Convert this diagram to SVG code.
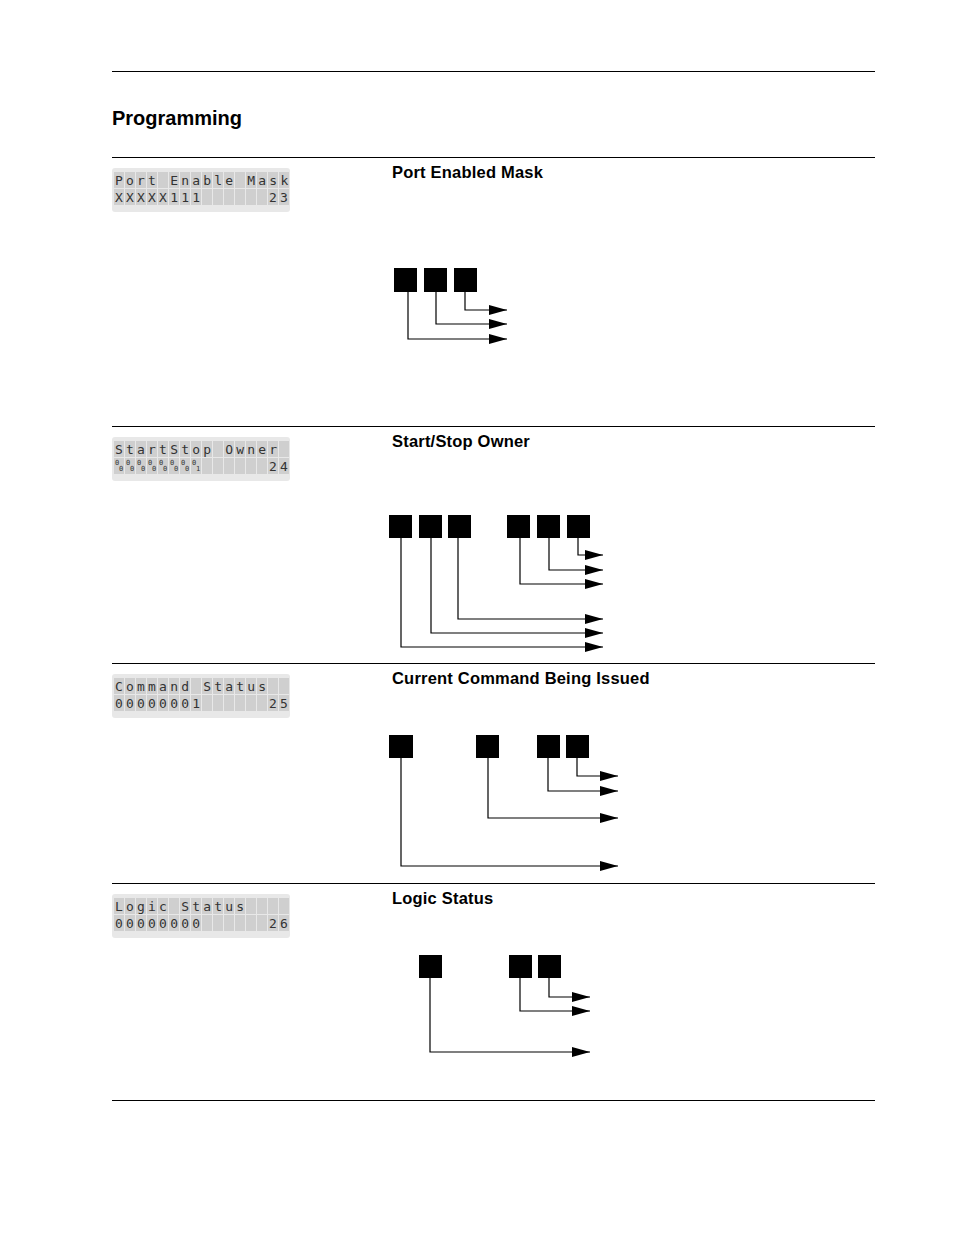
<svg xmlns="http://www.w3.org/2000/svg" width="954" height="1235" viewBox="0 0 954 1235">
<style>
.rule{stroke:#000;stroke-width:1}
.h{font-family:"Liberation Sans",Arial,sans-serif;font-weight:bold;font-size:16.5px;letter-spacing:0.2px}
.lcd{fill:#e8e8e8}
.cell{fill:#cfcfcf}
.lt{font-family:"DejaVu Sans Mono","Liberation Mono",monospace;font-size:13px;fill:#333;letter-spacing:3.2px;white-space:pre}
.sm{font-family:"DejaVu Sans Mono",monospace;font-size:7px;fill:#333}
.sq{fill:#000}
.c{fill:none;stroke:#000;stroke-width:1.2;marker-end:url(#ah)}
</style>
<defs>
<marker id="ah" markerUnits="userSpaceOnUse" markerWidth="19" markerHeight="11" refX="18" refY="5" orient="auto"><polygon points="0,0 18,5 0,10" fill="#000"/></marker>
<g id="cells">
<rect class="lcd" x="0" y="0" width="178" height="44" rx="3"/>
<g class="cell">
<rect x="2" y="4" width="10" height="16"/><rect x="13" y="4" width="10" height="16"/><rect x="24" y="4" width="10" height="16"/><rect x="35" y="4" width="10" height="16"/><rect x="46" y="4" width="10" height="16"/><rect x="57" y="4" width="10" height="16"/><rect x="68" y="4" width="10" height="16"/><rect x="79" y="4" width="10" height="16"/><rect x="90" y="4" width="10" height="16"/><rect x="101" y="4" width="10" height="16"/><rect x="112" y="4" width="10" height="16"/><rect x="123" y="4" width="10" height="16"/><rect x="134" y="4" width="10" height="16"/><rect x="145" y="4" width="10" height="16"/><rect x="156" y="4" width="10" height="16"/><rect x="167" y="4" width="10" height="16"/>
<rect x="2" y="21" width="10" height="16"/><rect x="13" y="21" width="10" height="16"/><rect x="24" y="21" width="10" height="16"/><rect x="35" y="21" width="10" height="16"/><rect x="46" y="21" width="10" height="16"/><rect x="57" y="21" width="10" height="16"/><rect x="68" y="21" width="10" height="16"/><rect x="79" y="21" width="10" height="16"/><rect x="90" y="21" width="10" height="16"/><rect x="101" y="21" width="10" height="16"/><rect x="112" y="21" width="10" height="16"/><rect x="123" y="21" width="10" height="16"/><rect x="134" y="21" width="10" height="16"/><rect x="145" y="21" width="10" height="16"/><rect x="156" y="21" width="10" height="16"/><rect x="167" y="21" width="10" height="16"/>
</g>
</g>
</defs>
<rect width="954" height="1235" fill="#fff"/>
<g id="rules">
<line class="rule" x1="112" y1="71.5" x2="875" y2="71.5"/>
<line class="rule" x1="112" y1="157.5" x2="875" y2="157.5"/>
<line class="rule" x1="112" y1="426.5" x2="875" y2="426.5"/>
<line class="rule" x1="112" y1="663.5" x2="875" y2="663.5"/>
<line class="rule" x1="112" y1="883.5" x2="875" y2="883.5"/>
<line class="rule" x1="112" y1="1100.5" x2="875" y2="1100.5"/>
</g>
<text x="112" y="125" font-family="Liberation Sans,Arial,sans-serif" font-weight="bold" font-size="20">Programming</text>

<g id="lcd1" transform="translate(112,168)">
<use href="#cells"/>
<text class="lt" x="3" y="17">Port Enable Mask</text>
<text class="lt" x="3" y="34">XXXXX111</text>
<text class="lt" x="157" y="34">23</text>
</g>
<g id="lcd2" transform="translate(112,437)">
<use href="#cells"/>
<text class="lt" x="3" y="17">StartStop Owner</text>
<text class="lt" x="157" y="34">24</text>
<g class="sm">
<text x="3" y="28">0</text><text x="7" y="34">0</text>
<text x="14" y="28">0</text><text x="18" y="34">0</text>
<text x="25" y="28">0</text><text x="29" y="34">0</text>
<text x="36" y="28">0</text><text x="40" y="34">0</text>
<text x="47" y="28">0</text><text x="51" y="34">0</text>
<text x="58" y="28">0</text><text x="62" y="34">0</text>
<text x="69" y="28">0</text><text x="73" y="34">0</text>
<text x="80" y="28">0</text><text x="84" y="34">1</text>
</g>
</g>
<g id="lcd3" transform="translate(112,674)">
<use href="#cells"/>
<text class="lt" x="3" y="17">Command Status</text>
<text class="lt" x="3" y="34">00000001</text>
<text class="lt" x="157" y="34">25</text>
</g>
<g id="lcd4" transform="translate(112,894)">
<use href="#cells"/>
<text class="lt" x="3" y="17">Logic Status</text>
<text class="lt" x="3" y="34">00000000</text>
<text class="lt" x="157" y="34">26</text>
</g>

<text class="h" x="392" y="178">Port Enabled Mask</text>
<text class="h" x="392" y="447">Start/Stop Owner</text>
<text class="h" x="392" y="684">Current Command Being Issued</text>
<text class="h" x="392" y="904">Logic Status</text>

<g id="bits1" class="sq">
<rect x="394" y="268" width="23" height="24"/><rect x="424" y="268" width="23" height="24"/><rect x="454" y="268" width="23" height="24"/>
</g>
<g id="bits2" class="sq">
<rect x="389" y="515" width="23" height="23"/><rect x="419" y="515" width="23" height="23"/><rect x="448" y="515" width="23" height="23"/>
<rect x="507" y="515" width="23" height="23"/><rect x="537" y="515" width="23" height="23"/><rect x="567" y="515" width="23" height="23"/>
</g>
<g id="bits3" class="sq">
<rect x="389" y="735" width="24" height="23"/><rect x="476" y="735" width="23" height="23"/><rect x="537" y="735" width="23" height="23"/><rect x="566" y="735" width="23" height="23"/>
</g>
<g id="bits4" class="sq">
<rect x="419" y="955" width="23" height="23"/><rect x="509" y="955" width="23" height="23"/><rect x="538" y="955" width="23" height="23"/>
</g>

<g id="connectors">
<polyline class="c" points="465,292 465,310 507,310"/>
<polyline class="c" points="436,292 436,324 507,324"/>
<polyline class="c" points="408,292 408,339 507,339"/>

<polyline class="c" points="578,538 578,555 603,555"/>
<polyline class="c" points="549,538 549,570 603,570"/>
<polyline class="c" points="520,538 520,584 603,584"/>
<polyline class="c" points="458,538 458,619 603,619"/>
<polyline class="c" points="431,538 431,633 603,633"/>
<polyline class="c" points="401,538 401,647 603,647"/>

<polyline class="c" points="577,758 577,776 618,776"/>
<polyline class="c" points="548,758 548,791 618,791"/>
<polyline class="c" points="488,758 488,818 618,818"/>
<polyline class="c" points="401,758 401,866 618,866"/>

<polyline class="c" points="549,978 549,997 590,997"/>
<polyline class="c" points="520,978 520,1011 590,1011"/>
<polyline class="c" points="430,978 430,1052 590,1052"/>
</g>
</svg>
